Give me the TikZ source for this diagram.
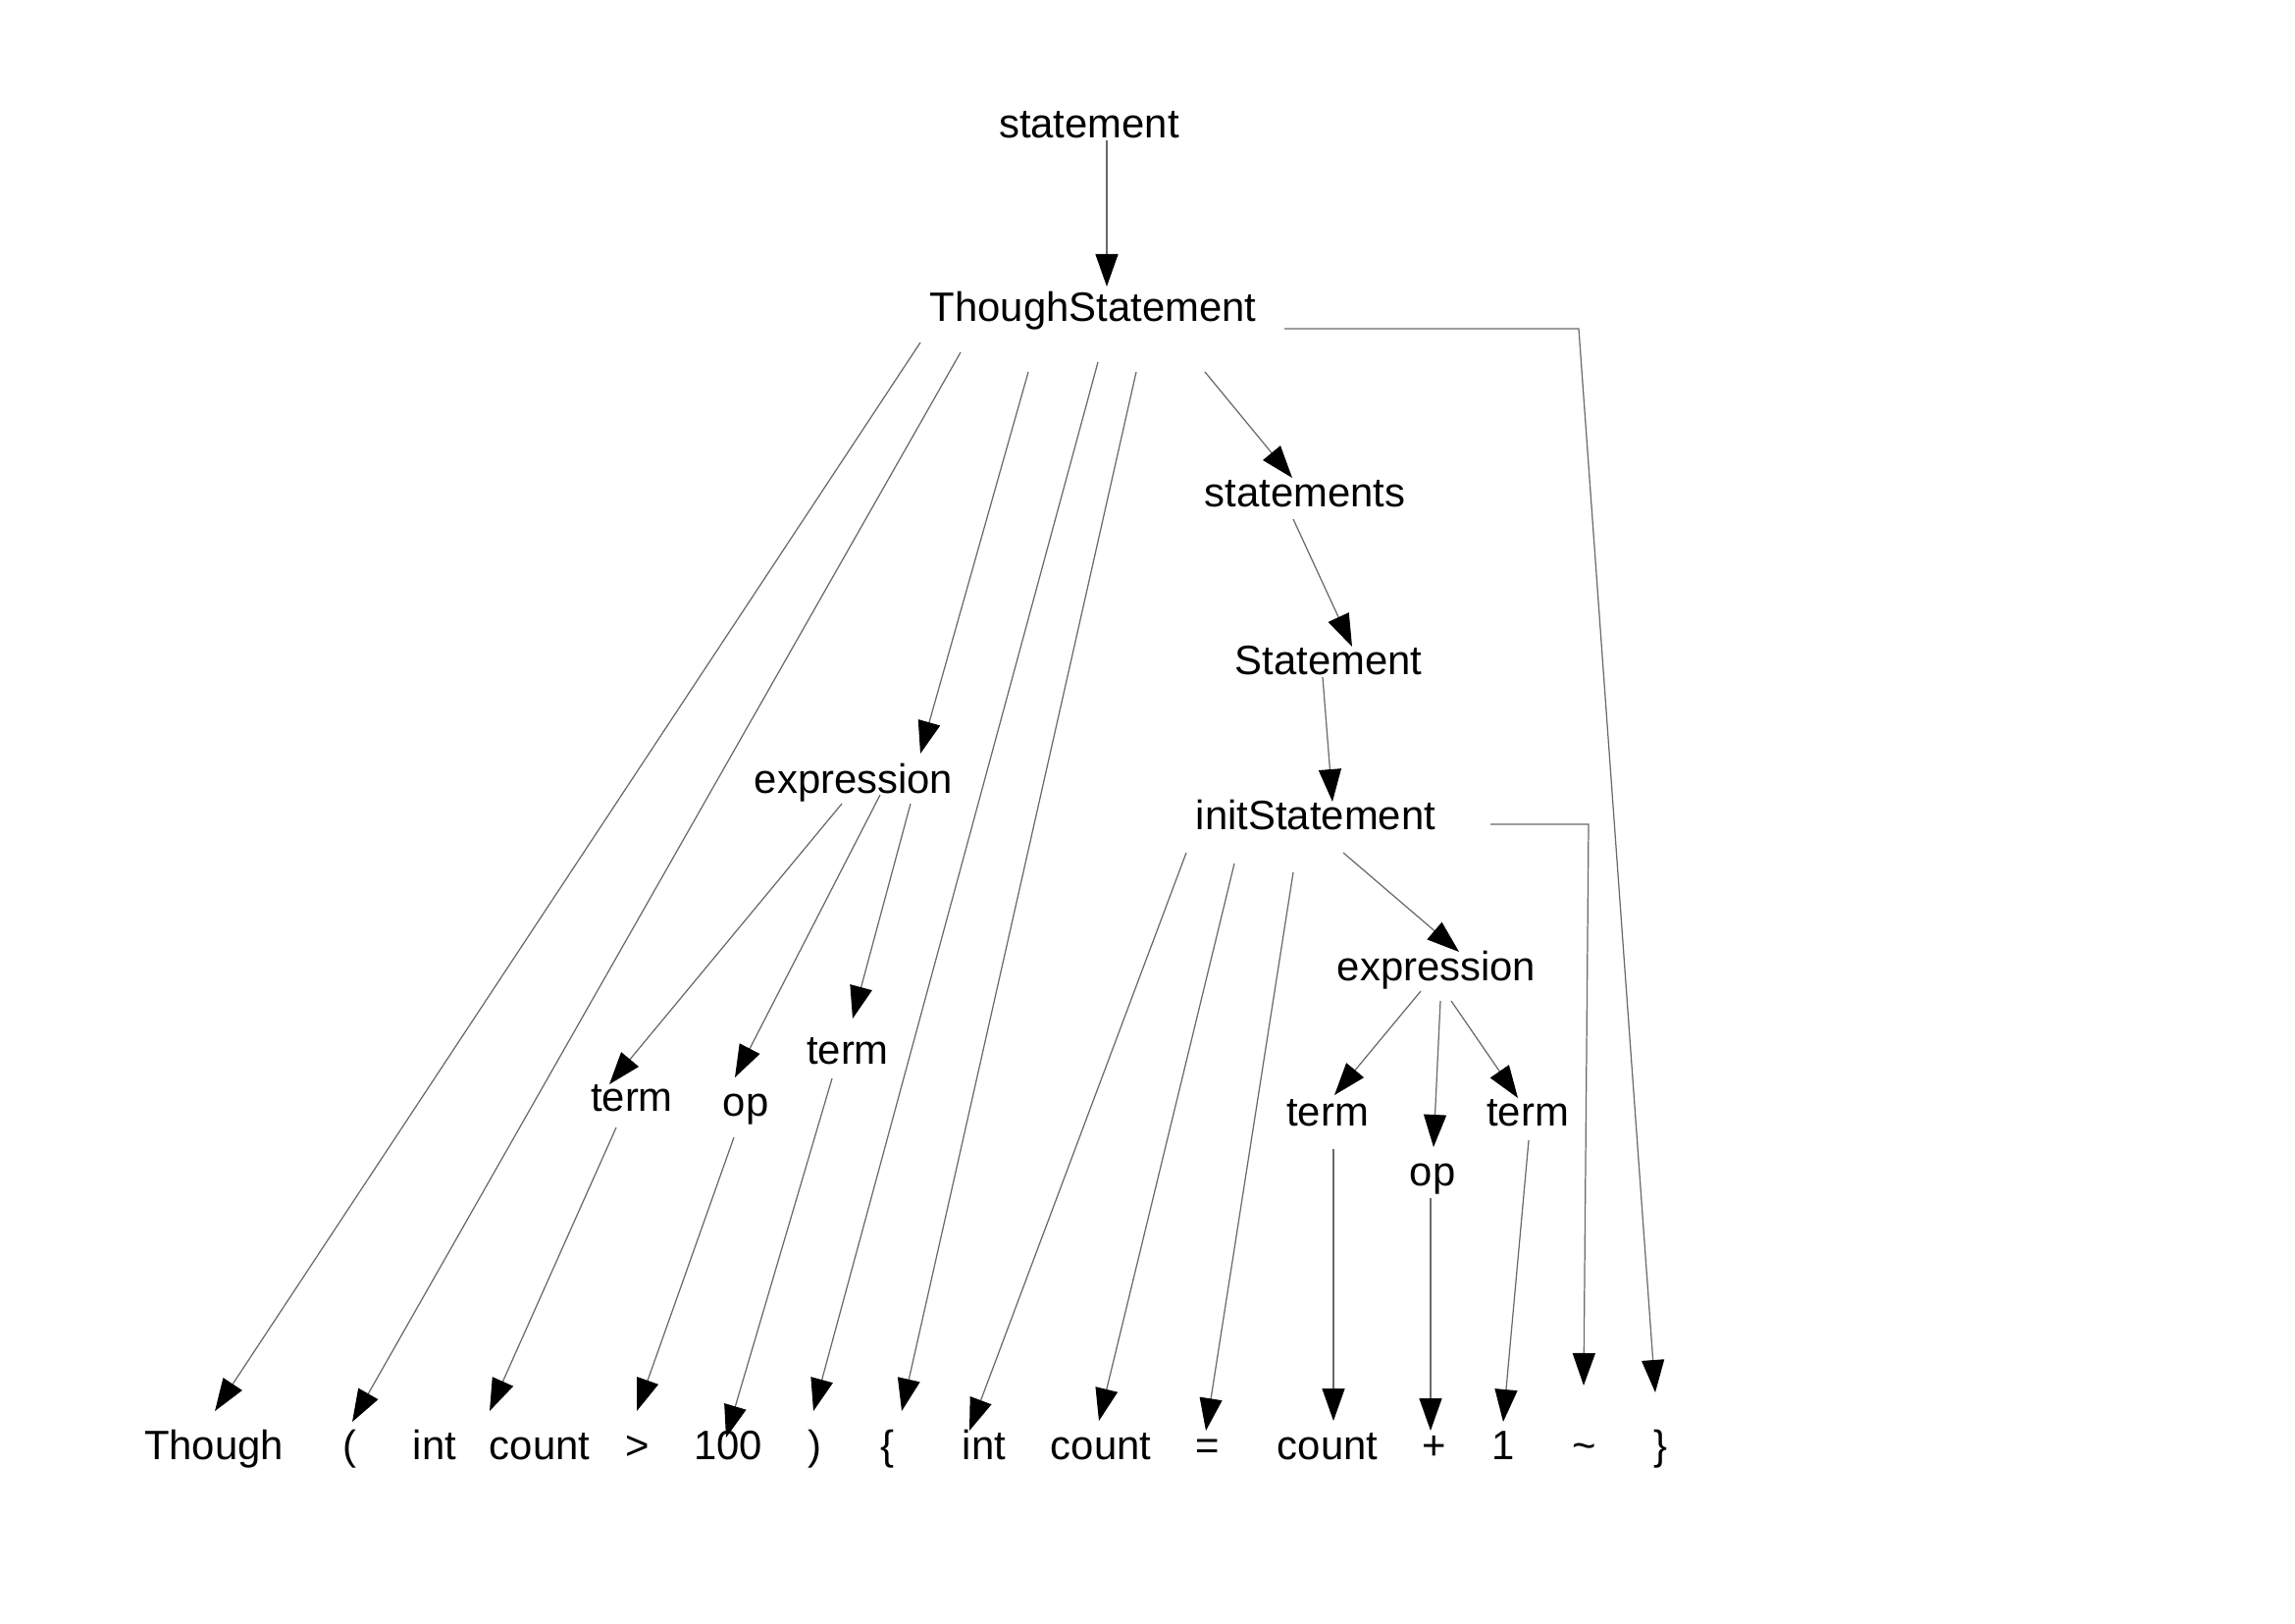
\documentclass[tikz,border=0pt]{standalone}
\usepackage{fontspec}
\setmainfont{Liberation Sans}
\usetikzlibrary{arrows.meta,calc}
\definecolor{linegray}{RGB}{105,105,105}
\tikzset{
  lbl/.style={anchor=base,inner sep=0pt,font=\fontsize{11.9}{14}\selectfont},
  conn/.style={draw=linegray,line width=0.35pt,-{Triangle[length=3.3mm,width=2.3mm,color=black]}}
}
\newcommand\conn[4]{\draw[conn] ($(#1.base)+(#2)$) -- ($(#3.base)+(#4)$);}
\begin{document}
\begin{tikzpicture}[x=0.01cm,y=-0.01cm]
\useasboundingbox (0,0) rectangle (2339,1654);
% inner nodes
\node[lbl] (st)   at (1110,140)  {statement};
\node[lbl] (ts)   at (1114,327)  {ThoughStatement};
\node[lbl] (sts)  at (1330,516)  {statements};
\node[lbl] (stm)  at (1354,687)  {Statement};
\node[lbl] (init) at (1341,845)  {initStatement};
\node[lbl] (exL)  at (870,808)   {expression};
\node[lbl] (exR)  at (1464,999)  {expression};
\node[lbl] (tLL)  at (644,1132)  {term};
\node[lbl] (opL)  at (760,1137)  {op};
\node[lbl] (tLR)  at (864,1084)  {term};
\node[lbl] (tRL)  at (1353,1147) {term};
\node[lbl] (opR)  at (1460,1208) {op};
\node[lbl] (tRR)  at (1557,1147) {term};
% leaves
\node[lbl] (l1)  at (218,1487)  {Though};
\node[lbl] (l2)  at (356,1487)  {(};
\node[lbl] (l3)  at (443,1487)  {int};
\node[lbl] (l4)  at (550,1487)  {count};
\node[lbl] (l5)  at (650,1487)  {>};
\node[lbl] (l6)  at (742,1487)  {100};
\node[lbl] (l7)  at (830,1487)  {)};
\node[lbl] (l8)  at (904,1487)  {\{};
\node[lbl] (l9)  at (1003,1487) {int};
\node[lbl] (l10) at (1122,1487) {count};
\node[lbl] (l11) at (1231,1487) {=};
\node[lbl] (l12) at (1353,1487) {count};
\node[lbl] (l13) at (1462,1487) {+};
\node[lbl] (l14) at (1532,1487) {1};
\node[lbl] (l15) at (1615,1487) {\textasciitilde};
\node[lbl] (l16) at (1692,1487) {\}};
% connectors
\conn{st}{18,3}{ts}{14,-35}
\conn{ts}{-176,22}{l1}{1,-49}
\conn{ts}{-135,32}{l2}{3,-38}
\conn{ts}{-66,52}{exL}{68,-40}
\conn{ts}{5,42}{l7}{-1,-49}
\conn{ts}{44,52}{l8}{15,-49}
\conn{ts}{114,52}{sts}{-13,-29}
\draw[conn] ($(ts.base)+(195,8)$) -- ($(ts.base)+(495,8)$) -- ($(l16.base)+(-5,-68)$);
\conn{sts}{-12,13}{stm}{24,-28}
\conn{stm}{-6,3}{init}{17,-28}
\draw[conn] ($(init.base)+(178,-5)$) -- ($(init.base)+(278,-5)$) -- ($(l15.base)+(-1,-75)$);
\conn{init}{-132,24}{l9}{-15,-29}
\conn{init}{-83,35}{l10}{-2,-39}
\conn{init}{-23,44}{l11}{-2,-29}
\conn{init}{28,24}{exR}{23,-29}
\conn{exR}{-16,11}{tRL}{7,-31}
\conn{exR}{4,21}{opR}{1,-39}
\conn{exR}{15,21}{tRR}{-10,-28}
\conn{tRL}{6,24}{l12}{6,-39}
\conn{opR}{-2,13}{l13}{-4,-29}
\conn{tRR}{1,15}{l14}{0,-38}
\conn{exL}{-12,11}{tLL}{-23,-27}
\conn{exL}{27,2}{opL}{-11,-39}
\conn{exL}{58,11}{tLR}{5,-46}
\conn{tLL}{-16,17}{l4}{-51,-49}
\conn{opL}{-12,22}{l5}{-1,-49}
\conn{tLR}{-16,15}{l6}{-2,-22}
\end{tikzpicture}
\end{document}
